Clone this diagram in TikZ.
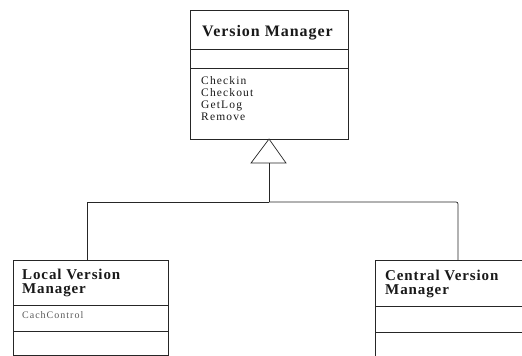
\documentclass[tikz,border=0pt]{standalone}
\usepackage{fontspec}
\setmainfont{Liberation Serif}
\newfontfamily\hdrfont[LetterSpace=6]{Liberation Serif}
\newfontfamily\opfont[LetterSpace=10]{Liberation Serif}
\definecolor{linec}{gray}{0.15}
\definecolor{txtc}{gray}{0.1}
\definecolor{attrc}{gray}{0.35}
\begin{document}
\begin{tikzpicture}[x=1pt,y=-1pt,
  umlbox/.style={draw=linec, line width=0.7pt, rectangle, inner sep=0pt, outer sep=0pt, anchor=north west},
  sepline/.style={draw=linec, line width=0.6pt},
  conn/.style={draw=linec, line width=0.7pt},
  hdr/.style={inner sep=0pt, align=left, text=txtc, font=\hdrfont\bfseries\fontsize{15}{14}\selectfont},
  ops/.style={inner sep=0pt, align=left, text=txtc, font=\opfont\fontsize{11.5}{12}\selectfont},
  attr/.style={inner sep=0pt, align=left, text=attrc, font=\opfont\fontsize{10}{11}\selectfont}]
\useasboundingbox (0,0) rectangle (522,356);
% boxes
\node[umlbox, minimum width=158pt, minimum height=129pt] (vm) at (190,10) {};
\node[umlbox, minimum width=155pt, minimum height=95pt] (lv) at (13,260) {};
\node[umlbox, minimum width=160pt, minimum height=105pt] (cv) at (375,260) {};
% compartments
\draw[sepline] ([yshift=-39pt]vm.north west) -- ([yshift=-39pt]vm.north east);
\draw[sepline] ([yshift=-58pt]vm.north west) -- ([yshift=-58pt]vm.north east);
\draw[sepline] ([yshift=-45pt]lv.north west) -- ([yshift=-45pt]lv.north east);
\draw[sepline] ([yshift=-71pt]lv.north west) -- ([yshift=-71pt]lv.north east);
\draw[sepline] ([yshift=-46pt]cv.north west) -- ([yshift=-46pt]cv.north east);
\draw[sepline] ([yshift=-72pt]cv.north west) -- ([yshift=-72pt]cv.north east);
% texts
\node[hdr, anchor=base west, font=\hdrfont\bfseries\fontsize{16}{16}\selectfont] (vmname) at (202,36) {Version Manager};
\node[ops, anchor=north west] (vmops) at (201,76) {Checkin\\Checkout\\GetLog\\Remove};
\node[hdr, anchor=north west] (lvname) at (22,269) {Local Version\\Manager};
\node[attr, anchor=base west] (lvattr) at (22,318) {CachControl};
\node[hdr, anchor=north west] (cvname) at (385,270) {Central Version\\Manager};
% generalization
\coordinate (apex) at (vm.south);
\draw[conn, fill=white] (apex) -- ++(-18,24) coordinate (tl) -- ++(35,0) coordinate (tr) -- cycle;
\coordinate (tb) at ([yshift=-24pt]apex);
\coordinate (junc) at ([yshift=-63pt]apex);
\draw[conn] (tb) -- (junc);
\draw[conn] ([xshift=-3pt]lv.north) |- (junc);
\draw[conn, rounded corners=2pt] (junc) -| ([xshift=3pt]cv.north |- cv.north);
\end{tikzpicture}
\end{document}
